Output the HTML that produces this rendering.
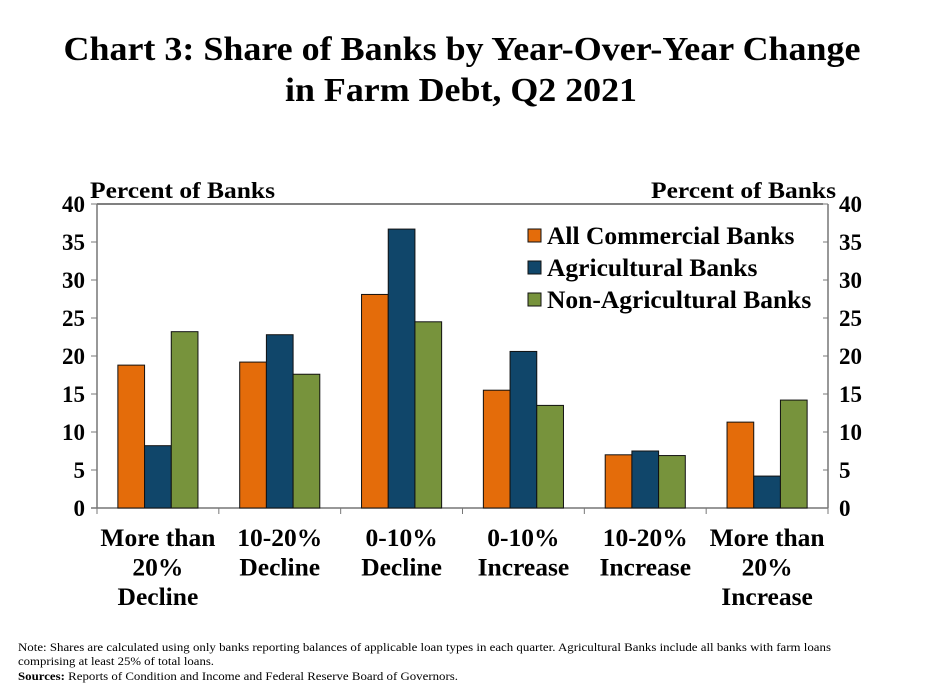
<!DOCTYPE html>
<html><head><meta charset="utf-8"><style>
body{margin:0;background:#fff;}
svg text{font-family:"Liberation Serif",serif;font-weight:bold;fill:#000;}
</style></head><body>
<svg width="925" height="693" viewBox="0 0 925 693" id="c">
<text x="462" y="60" text-anchor="middle" font-size="34" textLength="797" lengthAdjust="spacingAndGlyphs">Chart 3: Share of Banks by Year-Over-Year Change</text>
<text x="461" y="101" text-anchor="middle" font-size="34" textLength="352" lengthAdjust="spacingAndGlyphs">in Farm Debt, Q2 2021</text>
<text x="90" y="198" font-size="23" textLength="185" lengthAdjust="spacingAndGlyphs">Percent of Banks</text>
<text x="836" y="198" font-size="23" text-anchor="end" textLength="185" lengthAdjust="spacingAndGlyphs">Percent of Banks</text>
<g id="axes"></g>
<g id="bars"></g>
<g id="legend"></g>
<text x="18" y="651" font-size="12" textLength="813" lengthAdjust="spacingAndGlyphs" style="font-weight:normal">Note: Shares are calculated using only banks reporting balances of applicable loan types in each quarter. Agricultural Banks include all banks with farm loans</text>
<text x="18" y="665" font-size="12" textLength="196" lengthAdjust="spacingAndGlyphs" style="font-weight:normal">comprising at least 25% of total loans.</text>
<text x="18" y="680" font-size="12" textLength="440" lengthAdjust="spacingAndGlyphs">Sources:<tspan style="font-weight:normal"> Reports of Condition and Income and Federal Reserve Board of Governors.</tspan></text>
</svg>
<script>
const categories=[["More than","20%","Decline"],["10-20%","Decline"],["0-10%","Decline"],["0-10%","Increase"],["10-20%","Increase"],["More than","20%","Increase"]];
const seriesNames=["All Commercial Banks","Agricultural Banks","Non-Agricultural Banks"];
const allBanks=[18.8,19.2,28.1,15.5,7.0,11.3];
const agBanks=[8.2,22.8,36.7,20.6,7.5,4.2];
const nonAgBanks=[23.2,17.6,24.5,13.5,6.9,14.2];
const yTicks=[0,5,10,15,20,25,30,35,40];
const colors=["#e46c0a","#10466a","#77933c"];
const NS="http://www.w3.org/2000/svg";
const X0=97,X1=828,Y0=508,Y1=204,YMAX=40;
const gw=(X1-X0)/categories.length,bw=26.7;
function y(v){return Y0-(v/YMAX)*(Y0-Y1);}
function mk(t,a,p){const e=document.createElementNS(NS,t);for(const k in a)e.setAttribute(k,a[k]);p.appendChild(e);return e;}
const ax=document.getElementById('axes');
mk('line',{x1:X0,y1:Y1,x2:X1,y2:Y1,stroke:'#000','stroke-width':1},ax);
mk('line',{x1:X0,y1:Y1,x2:X0,y2:Y0,stroke:'#777','stroke-width':1.5},ax);
mk('line',{x1:X1,y1:Y1,x2:X1,y2:Y0,stroke:'#777','stroke-width':1.5},ax);
mk('line',{x1:X0-6,y1:Y0,x2:X1,y2:Y0,stroke:'#777','stroke-width':1.5},ax);
yTicks.forEach(v=>{
 const l=mk('line',{x1:X0-6,y1:y(v),x2:X0,y2:y(v),stroke:'#777'},ax);
 
 
 const r=mk('line',{x1:X1-5,y1:y(v),x2:X1,y2:y(v),stroke:'#777'},ax);
 
 
 const t=mk('text',{x:X0-12,y:y(v)+8,'font-size':23,'text-anchor':'end'},ax);t.textContent=v;
 
 
 const t2=mk('text',{x:X1+11,y:y(v)+8,'font-size':23},ax);t2.textContent=v;
 
 
});
for(let i=0;i<=categories.length;i++){const l=mk('line',{x1:X0+i*gw,y1:Y0,x2:X0+i*gw,y2:Y0+6,stroke:'#777'},ax);
 
 }
categories.forEach((c,i)=>{c.forEach((ln,j)=>{const t=mk('text',{x:X0+(i+0.5)*gw,y:546+j*29.5,'font-size':25.5,'text-anchor':'middle'},ax);t.textContent=ln;
 
 });});
const bg=document.getElementById('bars');
[allBanks,agBanks,nonAgBanks].forEach((s,si)=>{s.forEach((v,i)=>{
 const cx=X0+(i+0.5)*gw;const x=cx-1.5*bw+si*bw;
 const r=mk('rect',{x:x,y:y(v),width:bw,height:Y0-y(v),fill:colors[si],stroke:'#111','stroke-width':1},bg);
 
 
});});
const lg=document.getElementById('legend');
seriesNames.forEach((n,i)=>{
 const r=mk('rect',{x:528,y:229+i*32,width:13,height:13,fill:colors[i],stroke:'#111'},lg);
 
 
 const t=mk('text',{x:547,y:244+i*32,'font-size':25.5},lg);t.textContent=n;
 
 
});
</script>
</body></html>
